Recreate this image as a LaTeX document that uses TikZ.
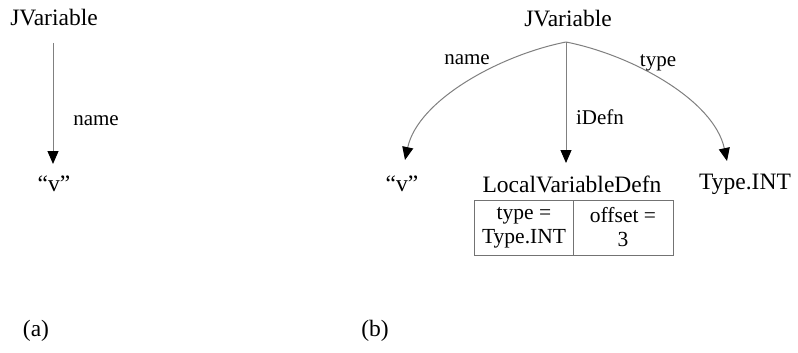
\documentclass[tikz,border=0pt]{standalone}
\usepackage{fontspec}
\setmainfont{Liberation Serif}
\usetikzlibrary{arrows.meta}
\tikzset{
  txt/.style={inner sep=0pt, font=\fontsize{23.5}{27}\selectfont},
  lbl/.style={inner sep=0pt, font=\fontsize{21}{24}\selectfont},
  cell/.style={draw=gray!90!black, line width=0.9pt, minimum height=55pt, inner sep=0pt, align=center, font=\fontsize{21.5}{24}\selectfont},
  edge/.style={draw=gray, line width=1pt, -{Triangle[length=13pt,width=11pt,color=black]}},
}
\begin{document}
\begin{tikzpicture}[x=1pt,y=-1pt]
\path[use as bounding box, fill=white] (0,0) rectangle (798,353);
% (a)
\node[txt] (ja) at (54,18) {JVariable};
\node[txt] (va) at (54,184) {“v”};
\coordinate (sa) at (53,43);
\coordinate (ea) at (53,164);
\draw[edge] (sa) -- (ea);
\node[lbl] (na) at (96,121) {name};
\node[txt] (capa) at (36,331) {(a)};
% (b)
\node[txt] (jb) at (568,19) {JVariable};
\coordinate (br) at (566,42);
\node[txt] (vb) at (402,184) {“v”};
\node[txt] (lv) at (572,184) {LocalVariableDefn};
\node[txt] (ti) at (745,184) {Type.INT};
\coordinate (tv) at (405,160);
\coordinate (tl) at (566,163);
\coordinate (tt) at (727,161);
\draw[edge] (br) .. controls (500,55) and (418,100) .. (tv);
\draw[edge] (br) -- (tl);
\draw[edge] (br) .. controls (632,55) and (714,100) .. (tt);
\node[lbl] (nb) at (467,60) {name};
\node[lbl] (db) at (600,117) {iDefn};
\node[lbl] (yb) at (658,63) {type};
\node[cell, minimum width=99pt] (c1) at (524,227.5) {type =\\Type.INT};
\node[cell, minimum width=100pt] (c2) at (623,227.5) {offset =\\3};
\node[txt] (capb) at (375,331) {(b)};
\end{tikzpicture}
\end{document}
